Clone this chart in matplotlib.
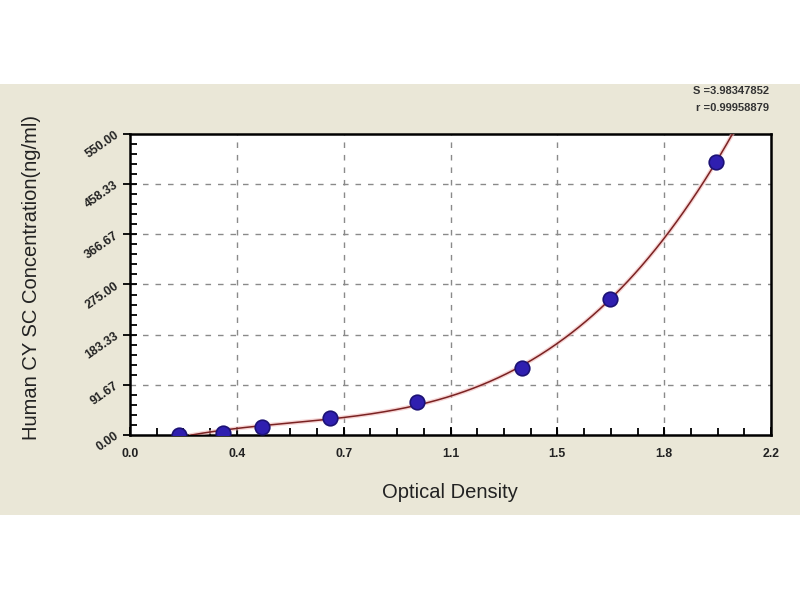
import numpy as np
import matplotlib
matplotlib.use("Agg")
import matplotlib.pyplot as plt
from matplotlib.ticker import FixedLocator, AutoMinorLocator
from matplotlib.patches import Rectangle

# data
od = [0.168, 0.320, 0.454, 0.685, 0.984, 1.347, 1.646, 2.011]
conc = [0.0, 4.6, 14.4, 30.8, 61.0, 122.0, 248.0, 498.5]

x_ticks = [0.0, 0.3667, 0.7333, 1.1, 1.4667, 1.8333, 2.2]
x_tick_labels = ["0.0", "0.4", "0.7", "1.1", "1.5", "1.8", "2.2"]
y_ticks = [0.0, 91.67, 183.33, 275.0, 366.67, 458.33, 550.0]
y_tick_labels = ["0.00", "91.67", "183.33", "275.00", "366.67", "458.33", "550.00"]

stats_s = "S =3.98347852"
stats_r = "r =0.99958879"

plt.rcParams['font.family'] = ['Liberation Sans', 'DejaVu Sans']

fig = plt.figure(figsize=(8, 6), dpi=100)
fig.patch.set_facecolor("white")
# beige panel band
band = Rectangle((0, 1 - 515/600), 1, (515-84)/600, transform=fig.transFigure,
                 facecolor="#EAE7D7", edgecolor="none", zorder=-10)
fig.add_artist(band)

ax = fig.add_axes([130/800, 1 - 435.2/600, (771-130)/800, (435.2-133.8)/600])
ax.set_zorder(5)
ax.set_facecolor("white")
ax.set_xlim(0, 2.2)
ax.set_ylim(0, 550)

# fitted curve (cubic fit of the standards)
coef = np.polyfit(od, conc, 3)
xc = np.linspace(0.21, 2.12, 400)
yc = np.polyval(coef, xc)
ax.plot(xc, yc, color="#f0b8b8", lw=3.0, alpha=0.6, zorder=3)
ax.plot(xc, yc, color="#7a2222", lw=1.1, zorder=4)
ax.plot(od, conc, linestyle="none", marker="o", markersize=10.5,
        markerfacecolor="#2f1fb0", markeredgecolor="#1c1275", markeredgewidth=1.2, zorder=5)

ax.xaxis.set_major_locator(FixedLocator(x_ticks))
ax.yaxis.set_major_locator(FixedLocator(y_ticks))
ax.set_xticklabels(x_tick_labels, fontweight="bold")
ax.set_yticklabels(y_tick_labels, rotation=35, ha="right", va="center",
                   rotation_mode="anchor", fontweight="bold")
ax.xaxis.set_minor_locator(AutoMinorLocator(4))
ax.yaxis.set_minor_locator(AutoMinorLocator(5))

ax.tick_params(axis="x", which="major", direction="in", length=6, width=1.3,
               labelsize=8.8, colors="black", pad=9, labelcolor="#222222")
ax.tick_params(axis="x", which="minor", direction="in", length=5, width=1.3)
ax.tick_params(axis="y", which="major", direction="out", length=5, width=1.3,
               labelsize=8.8, pad=4, labelcolor="#222222")
ax.tick_params(axis="y", which="minor", direction="in", length=5, width=1.3)

for s in ax.spines.values():
    s.set_linewidth(1.8)
    s.set_color("black")

for xv in x_ticks[1:-1]:
    ax.axvline(xv, color="#8a8a8a", lw=1.0, ls=(0, (4, 5)), zorder=1)
for yv in y_ticks[1:-1]:
    ax.axhline(yv, color="#8a8a8a", lw=1.0, ls=(0, (4, 5)), zorder=1)

fig.text(450/800, 1 - 492/600, "Optical Density", fontsize=14.5, color="#222222",
         ha="center", va="center")
fig.text(32/800, 1 - 278/600, "Human CY SC Concentration(ng/ml)", fontsize=14.5,
         color="#222222", rotation=90, ha="center", va="center")

fig.text(769/800, 1 - 91/600, stats_s, ha="right", va="center", fontsize=8, fontweight="bold", color="#333333")
fig.text(769/800, 1 - 108/600, stats_r, ha="right", va="center", fontsize=8, fontweight="bold", color="#333333")

fig.savefig("out.png", dpi=100, facecolor=fig.get_facecolor())
